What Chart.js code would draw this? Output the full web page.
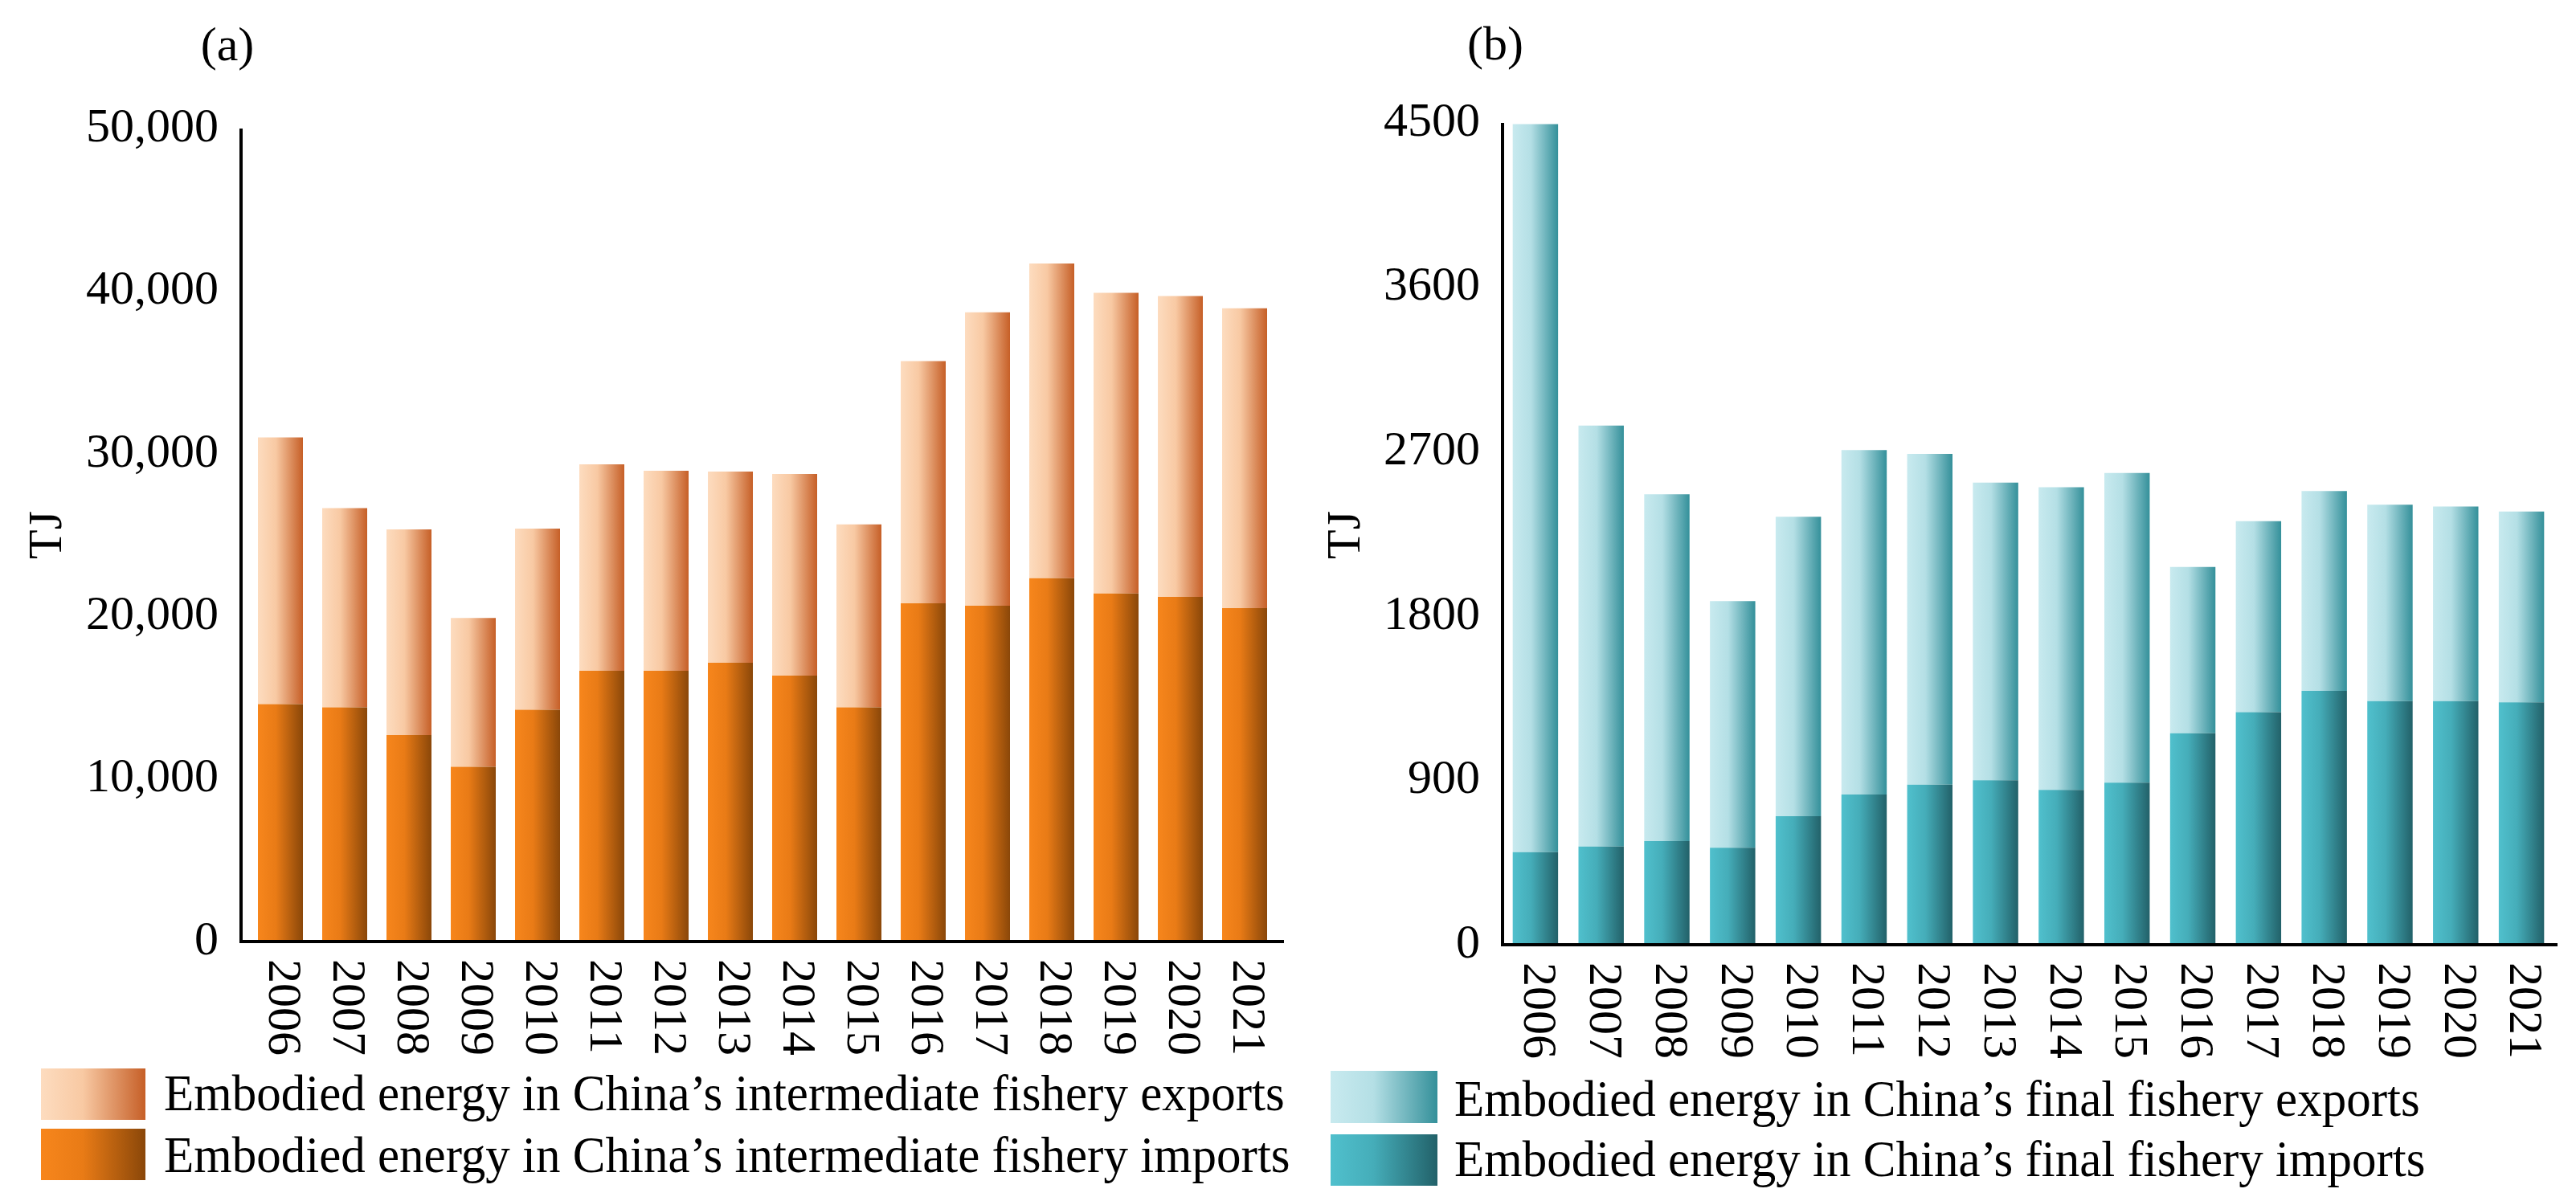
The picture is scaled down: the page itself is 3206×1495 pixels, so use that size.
<!DOCTYPE html>
<html>
<head>
<meta charset="utf-8">
<script src="https://cdn.jsdelivr.net/npm/chart.js@4.4.1/dist/chart.umd.min.js"></script>
<style>
  html, body { margin: 0; padding: 0; background: #fff; }
  body { width: 3206px; height: 1495px; position: relative; overflow: hidden;
         font-family: "Liberation Serif", "DejaVu Serif", serif; color: #000; }
  canvas { position: absolute; top: 0; }
  .txt { position: absolute; font-size: 60px; line-height: 1; white-space: nowrap; }
  .mid { transform: translate(-50%, -50%); }
  .ytitle { transform: translate(-50%, -50%) rotate(-90deg); }
  .leg { transform: translateY(-50%) scaleY(1.05); font-size: 61px; }
  .sw { position: absolute; }
</style>
</head>
<body>
<canvas id="chartA" width="1603" height="1340" style="left:0"></canvas>
<canvas id="chartB" width="1603" height="1340" style="left:1603px"></canvas>

<div class="txt mid" style="left:283px; top:55px">(a)</div>
<div class="txt mid" style="left:1861px; top:54px">(b)</div>
<div class="txt ytitle" style="left:56px; top:666px">TJ</div>
<div class="txt ytitle" style="left:1672px; top:666px">TJ</div>

<div class="sw" style="left:51px; top:1330px; width:130px; height:64px; background:linear-gradient(to right,#fddcbf,#f8c9a3 40%,#c65f27)"></div>
<div class="txt leg" style="left:204px; top:1360px">Embodied energy in China’s intermediate fishery exports</div>
<div class="sw" style="left:51px; top:1405px; width:130px; height:64px; background:linear-gradient(to right,#f7861c,#e97b16 40%,#8a4709)"></div>
<div class="txt leg" style="left:204px; top:1437px">Embodied energy in China’s intermediate fishery imports</div>

<div class="sw" style="left:1656px; top:1333px; width:133px; height:65px; background:linear-gradient(to right,#c8eaef,#b4dfe5 40%,#34909a)"></div>
<div class="txt leg" style="left:1810px; top:1367px">Embodied energy in China’s final fishery exports</div>
<div class="sw" style="left:1656px; top:1412px; width:133px; height:64px; background:linear-gradient(to right,#50c0cd,#45adb9 40%,#226169)"></div>
<div class="txt leg" style="left:1810px; top:1442px">Embodied energy in China’s final fishery imports</div>

<script>
// 연도
const years = ['2006', '2007', '2008', '2009', '2010', '2011', '2012', '2013',
               '2014', '2015', '2016', '2017', '2018', '2019', '2020', '2021'];

// (a) intermediate fishery, TJ
const interImports = [14600, 14400, 12700, 10750, 14250, 16650, 16650, 17150,
                      16350, 14400, 20800, 20650, 22350, 21400, 21200, 20500];
const interExports = [16400, 12250, 12650, 9150, 11150, 12700, 12300, 11750,
                      12400, 11250, 14900, 18050, 19350, 18500, 18500, 18450];

// (b) final fishery, TJ
const finalImports = [507, 538, 567, 531, 704, 823, 876, 901,
                      848, 887, 1158, 1274, 1390, 1334, 1334, 1327];
const finalExports = [3986, 2305, 1900, 1351, 1639, 1886, 1812, 1629,
                      1657, 1696, 911, 1045, 1094, 1076, 1066, 1045];

// y축 눈금
const ticksA = [0, 10000, 20000, 30000, 40000, 50000];
const ticksB = [0, 900, 1800, 2700, 3600, 4500];

const FONT = '"Liberation Serif", "DejaVu Serif", serif';

// 막대마다 가로 그라디언트
function barGradient(stops, barPct) {
    return function(c) {
        const chart = c.chart;
        const xs = chart.scales.x;
        if (!xs || c.dataIndex === undefined || !chart.chartArea) return stops[0][1];
        const cx = xs.getPixelForValue(c.dataIndex);
        const half = xs.width / chart.data.labels.length * barPct / 2;
        const g = chart.ctx.createLinearGradient(cx - half, 0, cx + half, 0);
        stops.forEach(s => g.addColorStop(s[0], s[1]));
        return g;
    };
}

// 축선 + 세로 연도 라벨
const axisPlugin = {
    id: 'axisLines',
    afterDraw(chart, args, opts) {
        const { ctx, chartArea } = chart;
        const x0 = chartArea.left - opts.leftGap;
        const x1 = chartArea.right + opts.rightGap;
        ctx.save();
        ctx.strokeStyle = '#000';
        ctx.lineWidth = 4;
        ctx.beginPath();
        ctx.moveTo(x0, chartArea.top);
        ctx.lineTo(x0, chartArea.bottom);
        ctx.lineTo(x1, chartArea.bottom);
        ctx.stroke();

        ctx.fillStyle = '#000';
        ctx.font = '60px ' + FONT;
        ctx.textAlign = 'left';
        ctx.textBaseline = 'middle';
        chart.data.labels.forEach((lab, i) => {
            const x = chart.scales.x.getPixelForValue(i);
            ctx.save();
            ctx.translate(x + 2, chartArea.bottom + 22);
            ctx.rotate(Math.PI / 2);
            ctx.fillText(lab, 0, 0);
            ctx.restore();
        });
        ctx.restore();
    }
};

function makeChart(id, cfg) {
    return new Chart(document.getElementById(id).getContext('2d'), {
        type: 'bar',
        data: {
            labels: years,
            datasets: [
                { label: cfg.names[1], data: cfg.imports,
                  backgroundColor: barGradient(cfg.impStops, cfg.barPct),
                  borderWidth: 0, barPercentage: cfg.barPct, categoryPercentage: 1 },
                { label: cfg.names[0], data: cfg.exports,
                  backgroundColor: barGradient(cfg.expStops, cfg.barPct),
                  borderWidth: 0, barPercentage: cfg.barPct, categoryPercentage: 1 }
            ]
        },
        options: {
            responsive: false,
            animation: false,
            devicePixelRatio: 1,
            layout: { padding: cfg.padding },
            plugins: {
                legend: { display: false },
                tooltip: { enabled: false },
                axisLines: { leftGap: cfg.leftGap, rightGap: cfg.rightGap }
            },
            scales: {
                x: { stacked: true, display: false },
                y: {
                    stacked: true,
                    min: 0,
                    max: cfg.ticks[cfg.ticks.length - 1],
                    afterFit: s => { s.width = cfg.yWidth; },
                    afterBuildTicks: s => { s.ticks = cfg.ticks.map(v => ({ value: v })); },
                    grid: { display: false, drawTicks: false },
                    border: { display: false },
                    ticks: {
                        padding: cfg.tickPad,
                        color: '#000',
                        font: { family: FONT, size: 60 },
                        callback: cfg.fmt
                    }
                }
            }
        },
        plugins: [axisPlugin]
    });
}

makeChart('chartA', {
    names: ['Embodied energy in China’s intermediate fishery exports',
            'Embodied energy in China’s intermediate fishery imports'],
    imports: interImports,
    exports: interExports,
    impStops: [[0, '#f7861c'], [0.4, '#e97b16'], [1, '#8a4709']],
    expStops: [[0, '#fddcbf'], [0.4, '#f8c9a3'], [1, '#c65f27']],
    barPct: 0.7,
    ticks: ticksA,
    fmt: v => v.toLocaleString('en-US'),
    yWidth: 309,
    tickPad: 37,
    padding: { left: 0, right: 14, top: 160, bottom: 168 },
    leftGap: 9,
    rightGap: 9
});

makeChart('chartB', {
    names: ['Embodied energy in China’s final fishery exports',
            'Embodied energy in China’s final fishery imports'],
    imports: finalImports,
    exports: finalExports,
    impStops: [[0, '#50c0cd'], [0.4, '#45adb9'], [1, '#226169']],
    expStops: [[0, '#c8eaef'], [0.4, '#b4dfe5'], [1, '#34909a']],
    barPct: 0.69,
    ticks: ticksB,
    fmt: v => String(v),
    yWidth: 267,
    tickPad: 28,
    padding: { left: 0, right: 27, top: 153, bottom: 164 },
    leftGap: 0,
    rightGap: 4
});
</script>
</body>
</html>
